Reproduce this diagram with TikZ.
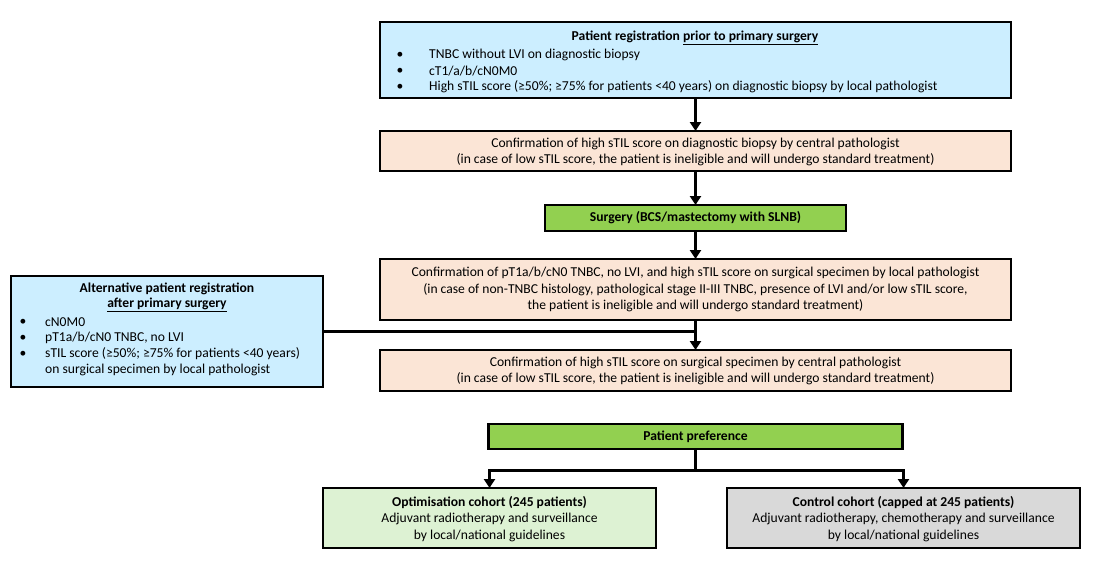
\documentclass[tikz,border=0pt]{standalone}
\usepackage{fontspec}
\setmainfont{Carlito}
\usetikzlibrary{arrows.meta}
\definecolor{regblue}{HTML}{CCEEFF}
\definecolor{confpeach}{HTML}{FBE5D6}
\definecolor{stepgreen}{HTML}{92D050}
\definecolor{optgreen}{HTML}{DDF2D3}
\definecolor{ctrlgray}{HTML}{D9D9D9}
\begin{document}
\begin{tikzpicture}[x=1pt,y=-1pt,
  box/.style={draw=black, line width=2.6pt, inner sep=0pt, outer sep=0pt},
  txt/.style={inner sep=0pt, font=\fontsize{13.6}{16.4}\selectfont},
  link/.style={line width=3pt},
  arr/.style={link, -{Triangle[width=11pt,length=9pt]}}]
\useasboundingbox (0,0) rectangle (1098,560);

% boxes
\node[box, fill=regblue, minimum width=631pt, minimum height=76pt] (reg) at (695.5,60) {};
\node[box, fill=confpeach, minimum width=631pt, minimum height=40pt] (conf1) at (695.5,151) {};
\node[box, fill=stepgreen, minimum width=301pt, minimum height=26pt] (surg) at (695.5,218) {};
\node[box, fill=confpeach, minimum width=631pt, minimum height=61pt] (conf2) at (695.5,289.5) {};
\node[box, fill=regblue, minimum width=312pt, minimum height=111pt] (alt) at (167,331.5) {};
\node[box, fill=confpeach, minimum width=631pt, minimum height=41pt] (conf3) at (695.5,370.5) {};
\node[box, fill=stepgreen, minimum width=414pt, minimum height=25pt] (pref) at (695.5,436.5) {};
\node[box, fill=optgreen, minimum width=333pt, minimum height=60pt] (opt) at (489.5,518) {};
\node[box, fill=ctrlgray, minimum width=353pt, minimum height=60pt] (ctrl) at (903.5,518) {};

% texts: registration
\node[txt] (regT) at (695,38) {\textbf{Patient registration \underline{prior to primary surgery}}};
\node[txt] (regB1) at (400,55) {•};
\node[txt] (regB2) at (400,71) {•};
\node[txt] (regB3) at (400,87) {•};
\node[txt, anchor=west] (regL1) at (429,55) {TNBC without LVI on diagnostic biopsy};
\node[txt, anchor=west] (regL2) at (429,71) {cT1/a/b/cN0M0};
\node[txt, anchor=west] (regL3) at (429,87) {High sTIL score (≥50\%; ≥75\% for patients <40 years) on diagnostic biopsy by local pathologist};

\node[txt, align=center] (conf1T) at (695.5,152) {Confirmation of high sTIL score on diagnostic biopsy by central pathologist\\(in case of low sTIL score, the patient is ineligible and will undergo standard treatment)};
\node[txt] (surgT) at (695.5,218) {\textbf{Surgery (BCS/mastectomy with SLNB)}};
\node[txt, align=center] (conf2T) at (695.5,289.5) {Confirmation of pT1a/b/cN0 TNBC, no LVI, and high sTIL score on surgical specimen by local pathologist\\(in case of non-TNBC histology, pathological stage II-III TNBC, presence of LVI and/or low sTIL score,\\the patient is ineligible and will undergo standard treatment)};

% alternative registration
\node[txt] (altT1) at (167,289) {\textbf{Alternative patient registration}};
\node[txt] (altT2) at (167,305) {\textbf{\underline{after primary surgery}}};
\node[txt] (altB1) at (23,322) {•};
\node[txt] (altB2) at (23,338) {•};
\node[txt] (altB3) at (23,354) {•};
\node[txt, anchor=west] (altL1) at (45,322) {cN0M0};
\node[txt, anchor=west] (altL2) at (45,338) {pT1a/b/cN0 TNBC, no LVI};
\node[txt, anchor=west] (altL3) at (45,354) {sTIL score (≥50\%; ≥75\% for patients <40 years)};
\node[txt, anchor=west] (altL4) at (45,370) {on surgical specimen by local pathologist};

\node[txt, align=center] (conf3T) at (695.5,371) {Confirmation of high sTIL score on surgical specimen by central pathologist\\(in case of low sTIL score, the patient is ineligible and will undergo standard treatment)};
\node[txt] (prefT) at (695.5,436.5) {\textbf{Patient preference}};
\node[txt, align=center] (optT) at (489.5,519) {\textbf{Optimisation cohort (245 patients)}\\Adjuvant radiotherapy and surveillance\\by local/national guidelines};
\node[txt, align=center] (ctrlT) at (903.5,519) {\textbf{Control cohort (capped at 245 patients)}\\Adjuvant radiotherapy, chemotherapy and surveillance\\by local/national guidelines};

% connectors
\draw[arr] (reg.south) -- (conf1.north);
\draw[arr] (conf1.south) -- (surg.north);
\draw[arr] (surg.south) -- (conf2.north);
\draw[arr] (conf2.south) -- (conf3.north);
\coordinate (join) at (alt.east -| conf2.south);
\draw[link] (alt.east) -- (join);
\coordinate (split) at (695.5,470);
\draw[link] (pref.south) -- (split);
\draw[arr] (split) -| (opt.north);
\draw[arr] (split) -| (ctrl.north);
\end{tikzpicture}
\end{document}
